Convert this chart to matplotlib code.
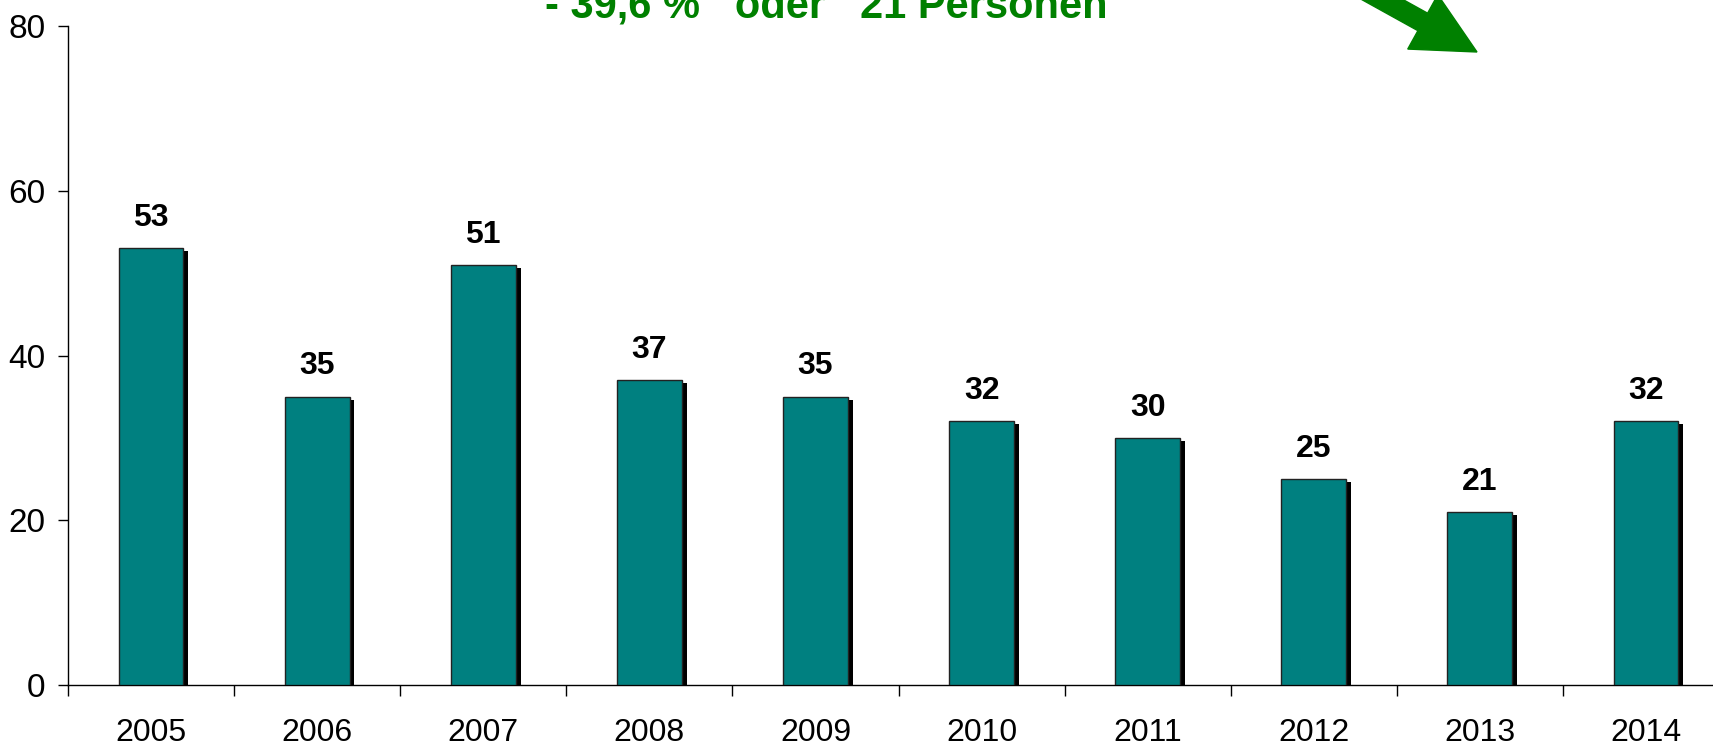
import matplotlib
matplotlib.use("Agg")
import matplotlib.pyplot as plt
from matplotlib import patheffects
from matplotlib.patches import FancyArrow
from matplotlib.transforms import IdentityTransform

# data
years = ["2005", "2006", "2007", "2008", "2009", "2010", "2011", "2012", "2013", "2014"]
values = [53, 35, 51, 37, 35, 32, 30, 25, 21, 32]
y_ticks = [0, 20, 40, 60, 80]
headline = "- 39,6 %   oder   21 Personen"

plt.rcParams["font.family"] = ["Liberation Sans", "DejaVu Sans"]

teal = "#008080"
green = "#008000"

fig = plt.figure(figsize=(17.13, 7.51), dpi=100)
ax = fig.add_axes([68 / 1713, 66 / 751, 1661 / 1713, 659 / 751])

x = [i + 0.5 for i in range(len(years))]
bars = ax.bar(x, values, width=0.39, color=teal, edgecolor="#222222", linewidth=1, zorder=3)
for b in bars:
    b.set_path_effects([patheffects.SimplePatchShadow(offset=(3.5, -2.2), shadow_rgbFace="black", alpha=1),
                        patheffects.Normal()])

for xi, v in zip(x, values):
    ax.annotate(str(v), (xi, v), xytext=(0, 11), textcoords="offset points",
                ha="center", va="bottom", fontsize=23, fontweight="bold")

ax.set_xlim(0, 10)
ax.set_ylim(0, 80)
ax.set_yticks(y_ticks)
ax.set_yticklabels([str(t) for t in y_ticks], fontsize=24)
ax.set_xticks(range(0, 11))
ax.set_xticklabels([])
ax.set_xticks(x, minor=True)
ax.set_xticklabels(years, minor=True, fontsize=23)
ax.tick_params(axis="y", direction="out", length=7.2, width=1, pad=9)
ax.tick_params(axis="x", which="major", direction="out", length=8, width=1)
ax.tick_params(axis="x", which="minor", length=0, pad=24)
for s in ["top", "right"]:
    ax.spines[s].set_visible(False)
for s in ["left", "bottom"]:
    ax.spines[s].set_linewidth(1)

fig.text(545 / 1713, 1 - 17 / 751, headline, color=green, fontsize=30, fontweight="bold",
         ha="left", va="baseline")

# green arrow, pixel coords (tip near 1477, 52 from top-left)
arrow = FancyArrow(1345.8, 771.7, 131.2, -72.7, width=20, head_width=62, head_length=62,
                   length_includes_head=True, color=green, transform=IdentityTransform())
fig.add_artist(arrow)

fig.savefig("out.png", dpi=100)
